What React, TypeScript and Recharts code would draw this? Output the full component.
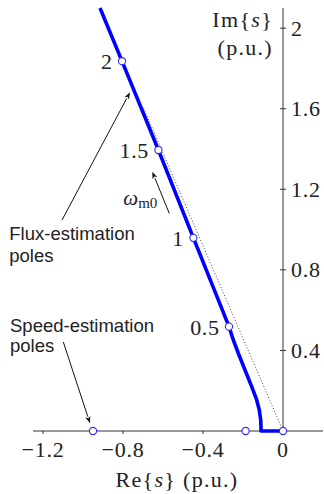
import { ScatterChart, Scatter, XAxis, YAxis, ReferenceLine } from "recharts";

// root locus of the flux-estimation poles (Re, Im), p.u.
const curveRe = [-0.915, -0.805, -0.623, -0.448, -0.323, -0.27, -0.2485, -0.2235, -0.19, -0.1565, -0.1315, -0.1185, -0.1115, -0.11, -0.11, 0];
const curveIm = [2.1, 1.836, 1.395, 0.959, 0.65, 0.518, 0.452, 0.386, 0.303, 0.22, 0.154, 0.104, 0.055, 0.015, 0, 0];

// marked poles on the locus and their omega_m0 values
const markRe = [-0.805, -0.623, -0.448, -0.27];
const markIm = [1.836, 1.395, 0.959, 0.518];
const markLabels = ["2", "1.5", "1", "0.5"];

// poles lying on the real axis
const realPoleRe = [-0.95, -0.187, 0];

// dotted reference line through the origin
const guideRe = [0, -0.7];
const guideIm = [0, 1.61];

const xTicks = [-1.2, -0.8, -0.4, 0];
const yTicks = [0.4, 0.8, 1.2, 1.6, 2];

const curve = curveRe.map((x, i) => ({ x, y: curveIm[i] }));
const marks = markRe.map((x, i) => ({ x, y: markIm[i], label: markLabels[i] }));
const realPoles = realPoleRe.map((x) => ({ x, y: 0 }));
const guide = guideRe.map((x, i) => ({ x, y: guideIm[i] }));
const yTickPts = yTicks.map((y) => ({ x: 0, y }));

const SERIF = "'Liberation Serif', 'Times New Roman', serif";
const SANS = "'Liberation Sans', Arial, sans-serif";
const INK = "#222";
const BLUE = "#0000ff";

const fmtX = (v: number) => (v === 0 ? "0" : "\u2212" + Math.abs(v).toFixed(1));

const NoDot = () => <g />;

const Pole = (p: any) => (
  <circle cx={p.cx} cy={p.cy} r={3.6} fill="#fff" stroke="#2a2aff" strokeWidth={1.1} />
);

const MarkedPole = (p: any) => (
  <g>
    <circle cx={p.cx} cy={p.cy} r={3.6} fill="#fff" stroke="#2a2aff" strokeWidth={1.1} />
    <text x={p.cx - 9.5} y={p.cy + 8} textAnchor="end" fontFamily={SERIF} fontSize={22} letterSpacing={0.6} fill={INK}>
      {p.payload.label}
    </text>
  </g>
);

const YTick = (p: any) => (
  <g>
    <line x1={p.cx - 3} x2={p.cx + 3} y1={p.cy} y2={p.cy} stroke="#333" />
    <text x={p.cx + 8} y={p.cy + 7.5} fontFamily={SERIF} fontSize={22} letterSpacing={0.8} fill={INK}>
      {p.payload.y}
    </text>
  </g>
);

const Arrow = (p: any) => {
  const { x1, y1, x2, y2 } = p;
  const a = Math.atan2(y2 - y1, x2 - x1);
  const len = 7;
  const half = 2.6;
  const bx = x2 - len * Math.cos(a);
  const by = y2 - len * Math.sin(a);
  const nx = -Math.sin(a) * half;
  const ny = Math.cos(a) * half;
  return (
    <g>
      <line x1={x1} y1={y1} x2={bx} y2={by} stroke="#111" strokeWidth={1} />
      <polygon points={`${x2},${y2} ${bx + nx},${by + ny} ${bx + (x2 - bx) * 0.25},${by + (y2 - by) * 0.25} ${bx - nx},${by - ny}`} fill="#111" />
    </g>
  );
};

const ReLabel = (p: any) => {
  const vb = p.viewBox;
  return (
    <text x={vb.x + vb.width / 2 - 1} y={vb.y + 56} textAnchor="middle" fontFamily={SERIF} fontSize={22} letterSpacing={1.3} fill={INK}>
      <tspan>Re{"{"}</tspan>
      <tspan fontStyle="italic">s</tspan>
      <tspan>{"}"} (p.u.)</tspan>
    </text>
  );
};

// text annotations anchored in data space
const imLabel = [{ x: -0.05, y: 2.005 }];
const omegaLabel = [{ x: -0.7985, y: 1.1216 }];
const fluxLabel = [{ x: -1.25, y: 0.948 }];
const speedLabel = [{ x: -1.25, y: 0.493 }];

const ImText = (p: any) => (
  <text x={p.cx} y={p.cy} textAnchor="end" fontFamily={SERIF} fontSize={22} letterSpacing={1.3} fill={INK}>
    <tspan x={p.cx}>
      Im{"{"}
      <tspan fontStyle="italic">s</tspan>
      {"}"}
    </tspan>
    <tspan x={p.cx} dy={28}>(p.u.)</tspan>
  </text>
);

const OmegaText = (p: any) => (
  <text x={p.cx} y={p.cy} fontFamily={SERIF} fill={INK}>
    <tspan fontSize={21} fontStyle="italic">ω</tspan>
    <tspan fontSize={15} dy={3}>m0</tspan>
  </text>
);

const twoLine = (a: string, b: string, dx: number, gap: number) => (p: any) => (
  <text x={p.cx + dx} y={p.cy} fontFamily={SANS} fontSize={18.5} fill={INK}>
    <tspan x={p.cx + dx}>{a}</tspan>
    <tspan x={p.cx + dx} dy={gap}>{b}</tspan>
  </text>
);

const FluxText = twoLine("Flux-estimation", "poles", -23.7, 21.7);
const SpeedText = twoLine("Speed-estimation", "poles", -23, 20);

export default function App() {
  return (
    <div style={{ position: "absolute", left: 0, top: 0, background: "#fff" }}>
      <ScatterChart width={324} height={494} margin={{ top: 8, right: 1, bottom: 0, left: 33 }}>
        <XAxis
          type="number"
          dataKey="x"
          domain={[-1.25, 0.2]}
          ticks={xTicks}
          tickFormatter={fmtX}
          height={63}
          stroke="#333"
          tickSize={3}
          tickMargin={7}
          tick={{ fill: INK, fontSize: 22, fontFamily: SERIF, letterSpacing: 0.8 }}
          label={ReLabel}
        />
        <YAxis type="number" dataKey="y" domain={[0, 2.1]} hide width={0} />

        <ReferenceLine x={0} stroke="#333" strokeWidth={1} />

        <Scatter data={guide} isAnimationActive={false} shape={NoDot} line={{ stroke: "#333", strokeWidth: 0.9, strokeDasharray: "1 2" }} lineType="joint" />
        <Scatter data={curve} isAnimationActive={false} shape={NoDot} line={{ stroke: BLUE, strokeWidth: 3.6, strokeLinejoin: "round" }} lineType="joint" />
        <Scatter data={yTickPts} isAnimationActive={false} shape={YTick} />
        <Scatter data={realPoles} isAnimationActive={false} shape={Pole} />
        <Scatter data={marks} isAnimationActive={false} shape={MarkedPole} />

        <ReferenceLine segment={[{ x: -1.105, y: 1.047 }, { x: -0.765, y: 1.682 }]} shape={Arrow} ifOverflow="visible" />
        <ReferenceLine segment={[{ x: -1.0985, y: 0.442 }, { x: -0.965, y: 0.038 }]} shape={Arrow} ifOverflow="visible" />
        <ReferenceLine segment={[{ x: -0.5685, y: 1.08 }, { x: -0.6535, y: 1.287 }]} shape={Arrow} ifOverflow="visible" />

        <Scatter data={imLabel} isAnimationActive={false} shape={ImText} />
        <Scatter data={omegaLabel} isAnimationActive={false} shape={OmegaText} />
        <Scatter data={fluxLabel} isAnimationActive={false} shape={FluxText} />
        <Scatter data={speedLabel} isAnimationActive={false} shape={SpeedText} />
      </ScatterChart>
    </div>
  );
}
